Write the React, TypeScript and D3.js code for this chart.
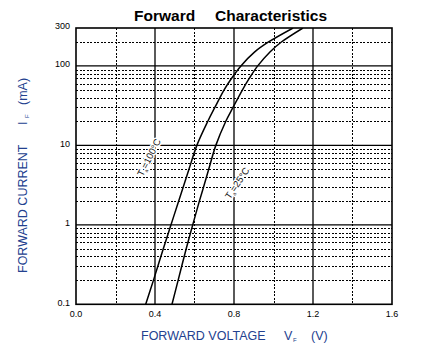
import React from "react";
import * as d3 from "d3";

const xTicks = [0.0, 0.4, 0.8, 1.2, 1.6];
const xMinorGrid = [0.2, 0.6, 1.0, 1.4];
const yTicks = [0.1, 1, 10, 100, 300];
const yTickLabels = ["0.1", "1", "10", "100", "300"];
const yMajorGrid = [1, 10, 100];
const yMinorGrid = [
  0.2, 0.3, 0.4, 0.5, 0.6, 0.7, 0.8, 0.9,
  2, 3, 4, 5, 6, 7, 8, 9,
  20, 30, 40, 50, 60, 70, 80, 90,
  200,
];

// current points (mA) shared by both curves
const curveI = [0.1, 0.2, 0.5, 1, 2, 3, 5, 10, 20, 30, 50, 70, 100, 150, 200, 300];
// T=100°C forward voltage (V)
const curve100V = [0.353, 0.392, 0.442, 0.481, 0.52, 0.543, 0.572, 0.612, 0.667, 0.703, 0.75, 0.788, 0.835, 0.905, 0.975, 1.099];
// T=25°C forward voltage (V)
const curve25V = [0.486, 0.517, 0.558, 0.591, 0.625, 0.646, 0.672, 0.708, 0.758, 0.795, 0.843, 0.878, 0.92, 0.982, 1.04, 1.149];

const FONT = "'Liberation Sans', Arial, sans-serif";
const BLUE = "#23418f";

export default function App() {
  const left = 76, right = 392, top = 28, bottom = 304.3;
  const x = d3.scaleLinear().domain([0, 1.6]).range([left, right]);
  const y = d3.scaleLog().domain([0.1, 300]).range([bottom, top]);

  const line = d3
    .line<[number, number]>()
    .x((d) => x(d[0]))
    .y((d) => y(d[1]))
    .curve(d3.curveCatmullRom.alpha(0.5));

  const c100 = curve100V.map((v, i) => [v, curveI[i]] as [number, number]);
  const c25 = curve25V.map((v, i) => [v, curveI[i]] as [number, number]);

  const dash = "2,1.5";

  const labelStyle: React.CSSProperties = { paintOrder: "stroke" };

  return (
    <svg
      width={425}
      height={355}
      style={{ position: "absolute", left: 0, top: 0, background: "#fff" }}
      fontFamily={FONT}
    >
      <defs>
        <clipPath id="plot">
          <rect x={left} y={top} width={right - left} height={bottom - top} />
        </clipPath>
      </defs>
      <rect x={0} y={0} width={425} height={355} fill="#fff" />

      {/* title */}
      <text x={134} y={21} fontSize={15.5} fontWeight="bold" fill="#000">
        Forward
      </text>
      <text x={215} y={21} fontSize={15.5} fontWeight="bold" fill="#000">
        Characteristics
      </text>

      {/* minor grid */}
      <g shapeRendering="crispEdges">
        {yMinorGrid.map((v) => (
          <line
            key={"ym" + v}
            x1={left}
            x2={right}
            y1={Math.round(y(v)) + 0.5}
            y2={Math.round(y(v)) + 0.5}
            stroke="#000"
            strokeWidth={1}
            strokeDasharray={dash}
          />
        ))}
        {xMinorGrid.map((v) => (
          <line
            key={"xm" + v}
            x1={Math.round(x(v)) + 0.5}
            x2={Math.round(x(v)) + 0.5}
            y1={top}
            y2={bottom}
            stroke="#000"
            strokeWidth={1}
            strokeDasharray={dash}
          />
        ))}
      </g>
      {/* major grid */}
      {yMajorGrid.map((v) => (
        <line
          key={"yM" + v}
          x1={left}
          x2={right}
          y1={y(v)}
          y2={y(v)}
          stroke="#000"
          strokeWidth={1.3}
        />
      ))}
      {xTicks.slice(1, -1).map((v) => (
        <line
          key={"xM" + v}
          x1={x(v)}
          x2={x(v)}
          y1={top}
          y2={bottom}
          stroke="#000"
          strokeWidth={1.3}
        />
      ))}

      {/* curve labels (white halo over grid) */}
      <text
        transform={`translate(152,159) rotate(-63)`}
        textAnchor="middle"
        fontSize={9.5}
        fill="#111"
        stroke="#fff"
        strokeWidth={3}
        strokeLinejoin="round"
        style={labelStyle}
      >
        <tspan>T</tspan>
        <tspan fontSize={5} dy={2}>a</tspan>
        <tspan dy={-2}>=100°C</tspan>
      </text>
      <text
        transform={`translate(240,185) rotate(-56)`}
        textAnchor="middle"
        fontSize={9.5}
        fill="#111"
        stroke="#fff"
        strokeWidth={3}
        strokeLinejoin="round"
        style={labelStyle}
      >
        <tspan>T</tspan>
        <tspan fontSize={5} dy={2}>a</tspan>
        <tspan dy={-2}>=25°C</tspan>
      </text>

      {/* curves */}
      <g clipPath="url(#plot)">
        <path d={line(c100) || ""} fill="none" stroke="#000" strokeWidth={1.5} />
        <path d={line(c25) || ""} fill="none" stroke="#000" strokeWidth={1.5} />
      </g>

      {/* frame */}
      <rect
        x={left}
        y={top}
        width={right - left}
        height={bottom - top}
        fill="none"
        stroke="#000"
        strokeWidth={1.6}
      />

      {/* y tick labels */}
      {yTicks.map((v, i) => (
        <text
          key={"yt" + v}
          x={70}
          y={y(v) - 1}
          textAnchor="end"
          dominantBaseline="middle"
          fontSize={9}
          fill="#000"
        >
          {yTickLabels[i]}
        </text>
      ))}
      {/* x tick labels */}
      {xTicks.map((v) => (
        <text
          key={"xt" + v}
          x={x(v)}
          y={317}
          textAnchor="middle"
          fontSize={9}
          fill="#000"
        >
          {v.toFixed(1)}
        </text>
      ))}

      {/* x axis title */}
      <text x={141} y={340} fontSize={12.5} fill={BLUE}>
        FORWARD VOLTAGE
      </text>
      <text x={284} y={340} fontSize={12.5} fill={BLUE}>
        V
      </text>
      <text x={293} y={342} fontSize={6} fill={BLUE}>
        F
      </text>
      <text x={311} y={340} fontSize={12.5} fill={BLUE}>
        (V)
      </text>

      {/* y axis title */}
      <g transform="translate(27,0) rotate(-90)">
        <text x={-273} y={0} fontSize={12.5} fill={BLUE}>
          FORWARD CURRENT
        </text>
        <text x={-125} y={0} fontSize={12.5} fill={BLUE}>
          I
        </text>
        <text x={-118} y={2} fontSize={6} fill={BLUE}>
          F
        </text>
        <text x={-105} y={0} fontSize={12.5} fill={BLUE}>
          (mA)
        </text>
      </g>
    </svg>
  );
}
